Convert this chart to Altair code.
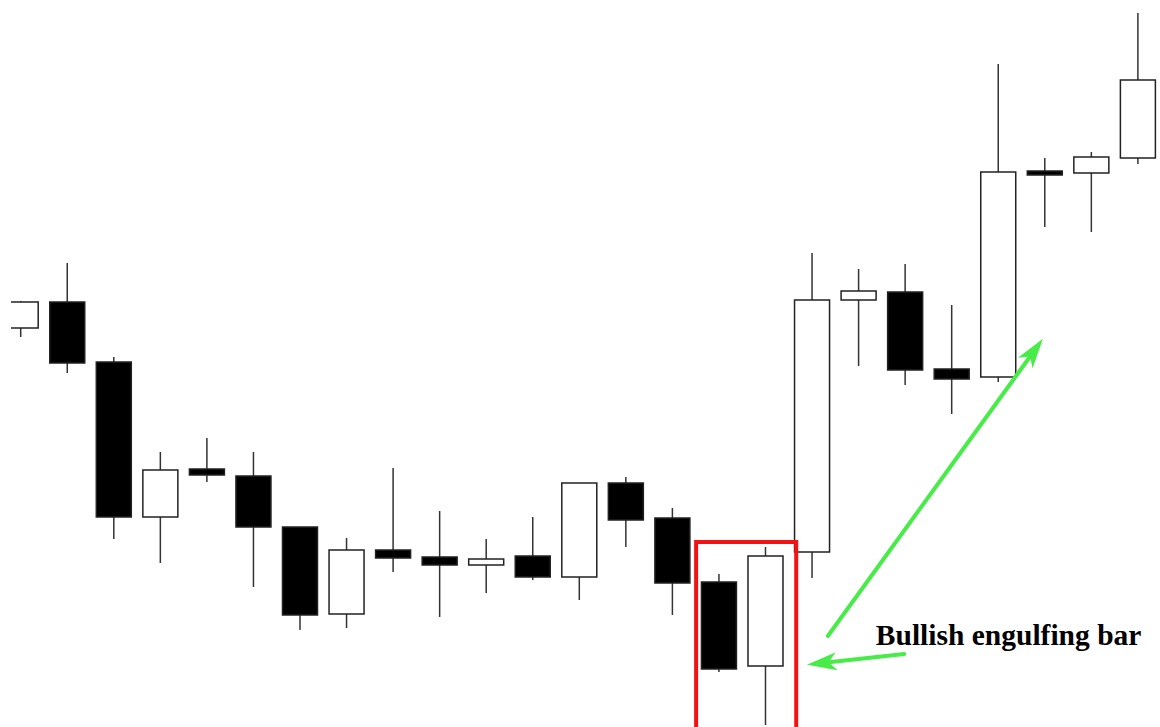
import altair as alt
import pandas as pd

# Candle data (price units)
idx    = list(range(1, 26))
opens  = [399, 425, 365, 210, 258, 251, 200, 113, 177, 170, 162, 171, 150, 244, 209, 145, 61, 175, 427, 435, 358, 350, 556, 554, 569]
closes = [425, 364, 210, 257, 252, 200, 112, 177, 169, 162, 168, 150, 244, 207, 144, 58, 171, 427, 436, 357, 348, 555, 552, 570, 647]
highs  = [426, 464, 370, 275, 289, 275, 200, 189, 259, 216, 188, 210, 244, 250, 219, 153, 180, 474, 458, 463, 422, 663, 569, 575, 714]
lows   = [390, 354, 188, 164, 245, 140, 97, 99, 155, 110, 134, 147, 127, 180, 112, 55, 2, 149, 361, 342, 313, 345, 500, 495, 563]

# Annotation anchors (data units)
box_x = [15.51]
box_x2 = [17.66]
box_top = [185]
box_bottom = [-30]

arrow_id = ["up", "left"]
arrow_tail_x = [18.34, 19.98]
arrow_tail_y = [91, 73]
arrow_head_x = [22.77, 18.21]
arrow_head_y = [376, 64]
arrow_angle = [35.9, 263.5]

label_text = ["Bullish engulfing bar"]
label_x = [19.37]
label_y = [82]

df = pd.DataFrame({"i": idx, "open": opens, "close": closes, "high": highs, "low": lows})
df["dir"] = ["up" if c >= o else "down" for o, c in zip(opens, closes)]

xs = alt.Scale(domain=[0.7916, 25.475], padding=0, nice=False, zero=False)
ys = alt.Scale(domain=[0, 727], padding=0, nice=False, zero=False)

base = alt.Chart(df)
wicks = base.mark_rule(color="#333333", strokeWidth=1.5, clip=True).encode(
    x=alt.X("i:Q", scale=xs, axis=None),
    y=alt.Y("low:Q", scale=ys, axis=None),
    y2="high:Q",
)
bodies = base.mark_bar(size=35, stroke="#222222", strokeWidth=1.5, clip=True).encode(
    x=alt.X("i:Q", scale=xs, axis=None),
    y=alt.Y("open:Q", scale=ys, axis=None),
    y2="close:Q",
    fill=alt.Fill("dir:N", scale=alt.Scale(domain=["up", "down"], range=["#ffffff", "#000000"]), legend=None),
)

box_df = pd.DataFrame({"x": box_x, "x2": box_x2, "y": box_top, "y2": box_bottom})
box = alt.Chart(box_df).mark_rect(fillOpacity=0, stroke="#f21212", strokeWidth=4, clip=True).encode(
    x=alt.X("x:Q", scale=xs, axis=None), x2="x2:Q",
    y=alt.Y("y:Q", scale=ys, axis=None), y2="y2:Q",
)

arr_df = pd.DataFrame({"id": arrow_id, "tx": arrow_tail_x, "ty": arrow_tail_y,
                       "hx": arrow_head_x, "hy": arrow_head_y, "angle": arrow_angle})
green = "#48ec48"
shafts = alt.Chart(arr_df).mark_rule(color=green, strokeWidth=4, strokeCap="round").encode(
    x=alt.X("tx:Q", scale=xs, axis=None), x2="hx:Q",
    y=alt.Y("ty:Q", scale=ys, axis=None), y2="hy:Q",
)
heads = alt.Chart(arr_df).mark_point(
    shape="M0,-1L0.6,1L0,0.45L-0.6,1Z", filled=True, size=900, color=green, opacity=1
).encode(
    x=alt.X("hx:Q", scale=xs, axis=None),
    y=alt.Y("hy:Q", scale=ys, axis=None),
    angle=alt.Angle("angle:Q", scale=None),
)

lab_df = pd.DataFrame({"t": label_text, "x": label_x, "y": label_y})
label = alt.Chart(lab_df).mark_text(
    font="Liberation Serif", fontWeight="bold", fontSize=29.5, align="left",
    baseline="alphabetic", color="#000000"
).encode(
    x=alt.X("x:Q", scale=xs, axis=None),
    y=alt.Y("y:Q", scale=ys, axis=None),
    text="t:N",
)

chart = alt.layer(wicks, bodies, box, shafts, heads, label).properties(
    width=1149, height=727,
    padding={"left": 11, "top": 0, "right": 0, "bottom": 0},
    autosize=alt.AutoSizeParams(type="none"),
    background="#ffffff",
).configure_view(stroke=None)

chart.save("out.html", embed_options={"renderer": "svg", "actions": False})
